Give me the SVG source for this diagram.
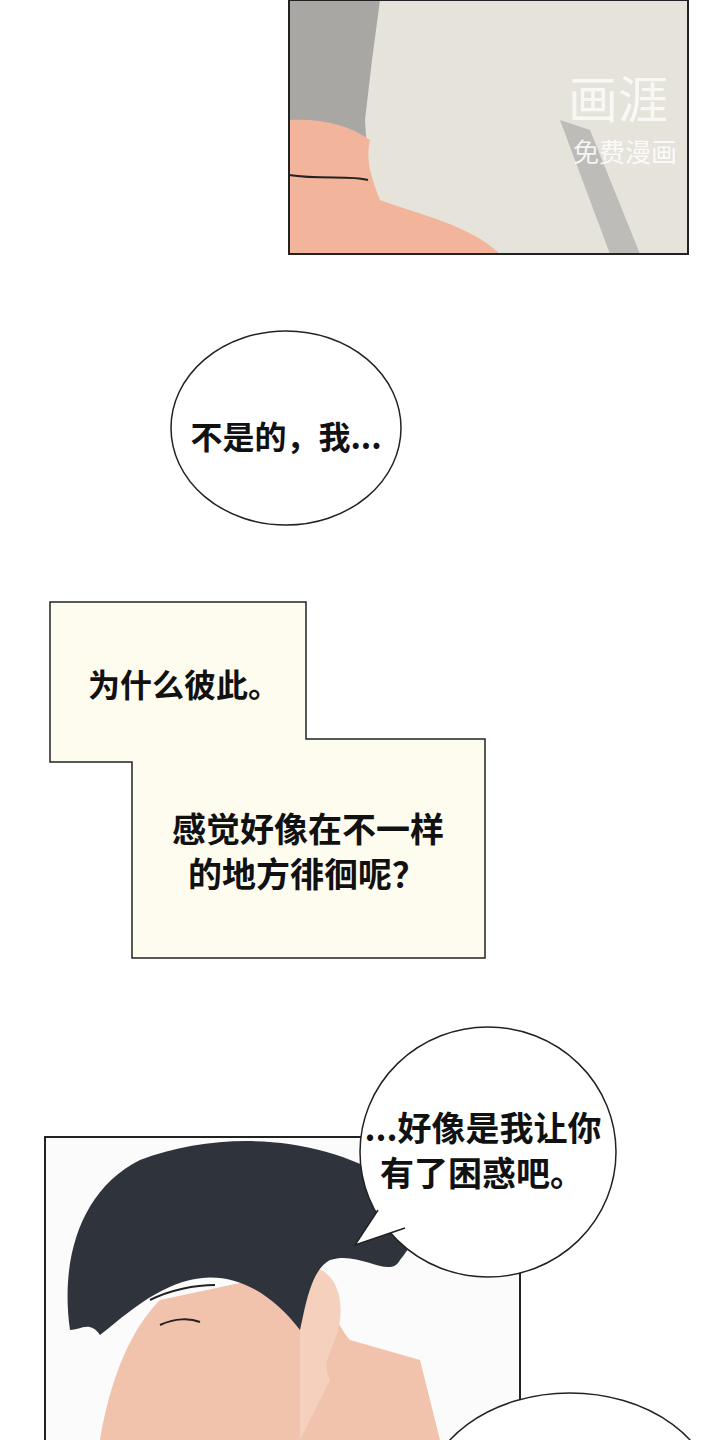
<svg xmlns="http://www.w3.org/2000/svg" width="720" height="1440" viewBox="0 0 720 1440">
<style>
.t{font-family:"Noto Sans CJK SC","Noto Sans",sans-serif;font-weight:bold;fill:#111}
.ln{fill:none;stroke:#222;stroke-width:2}
</style>
<rect width="720" height="1440" fill="#fff"/>
<g id="panel-top">
<rect x="289" y="0" width="399" height="254" fill="#e6e3da"/>
<path d="M289 0 H380 L372 60 L365 120 L370 200 L330 200 L289 160 Z" fill="#a9a7a4"/>
<path d="M289 120 C320 118 350 125 370 140 C365 160 372 180 380 200 C420 215 470 225 500 254 H289 Z" fill="#f2b59c"/>
<path d="M289 175 C320 180 350 175 368 180" class="ln" stroke-width="1.5"/>
<path d="M560 120 L610 254 H640 L590 130 Z" fill="#bdbcb8"/>
<rect x="289" y="0" width="399" height="254" fill="none" stroke="#222" stroke-width="2"/>
<text x="568" y="118" font-family="Noto Sans CJK SC,sans-serif" font-size="50" fill="#fff" opacity="0.75">画涯</text>
<text x="573" y="162" font-family="Noto Sans CJK SC,sans-serif" font-size="26" fill="#fff" opacity="0.85">免费漫画</text>
</g>
<g id="bubble1">
<ellipse cx="286" cy="428" rx="115" ry="97" fill="#fff" stroke="#222" stroke-width="1.5"/>
<text x="286" y="449" class="t" font-size="32" text-anchor="middle">不是的，我...</text>
</g>
<g id="caption">
<polygon points="50,602 306,602 306,739 485,739 485,958 132,958 132,762 50,762" fill="#fdfcef" stroke="#222" stroke-width="1.5"/>
<text x="88" y="697" class="t" font-size="32">为什么彼此。</text>
<text x="172" y="842" class="t" font-size="34">感觉好像在不一样</text>
<text x="188" y="887" class="t" font-size="34">的地方徘徊呢？</text>
</g>
<g id="panel-bottom">
<rect x="45" y="1137" width="475" height="310" fill="#fbfbfb" stroke="#222" stroke-width="2"/>
<path d="M100 1440 C110 1380 130 1330 160 1300 L300 1270 C330 1300 340 1330 350 1340 L420 1360 L440 1440 Z" fill="#f1c3ad"/>
<path d="M300 1270 C320 1260 345 1280 340 1320 C335 1350 320 1360 330 1380 L300 1440 Z" fill="#f5d1bd"/>
<path d="M70 1330 C60 1260 80 1190 140 1160 C220 1130 320 1135 390 1180 C420 1200 425 1230 400 1260 C390 1280 360 1250 330 1260 C310 1270 305 1310 300 1330 C270 1290 230 1270 190 1280 C150 1290 120 1320 100 1335 C90 1320 80 1330 70 1330 Z" fill="#2f333c"/>
<path d="M150 1300 C170 1290 195 1285 215 1285" class="ln" stroke-width="3"/>
<path d="M160 1325 C175 1318 190 1318 200 1322" class="ln"/>
</g>
<g id="bubble2">
<ellipse cx="488" cy="1152" rx="128" ry="125" fill="#fff" stroke="#222" stroke-width="1.5"/>
<path d="M378 1210 L355 1245 L405 1228" fill="#fff" stroke="#222" stroke-width="1.5"/>
<path d="M380 1212 L402 1226" stroke="#fff" stroke-width="6"/>
<text x="483" y="1141" class="t" font-size="34" text-anchor="middle">...好像是我让你</text>
<text x="482" y="1186" class="t" font-size="34" text-anchor="middle">有了困惑吧。</text>
</g>
<g id="bubble3">
<ellipse cx="570" cy="1500" rx="145" ry="107" fill="#fff" stroke="#222" stroke-width="1.5"/>
</g>
</svg>
